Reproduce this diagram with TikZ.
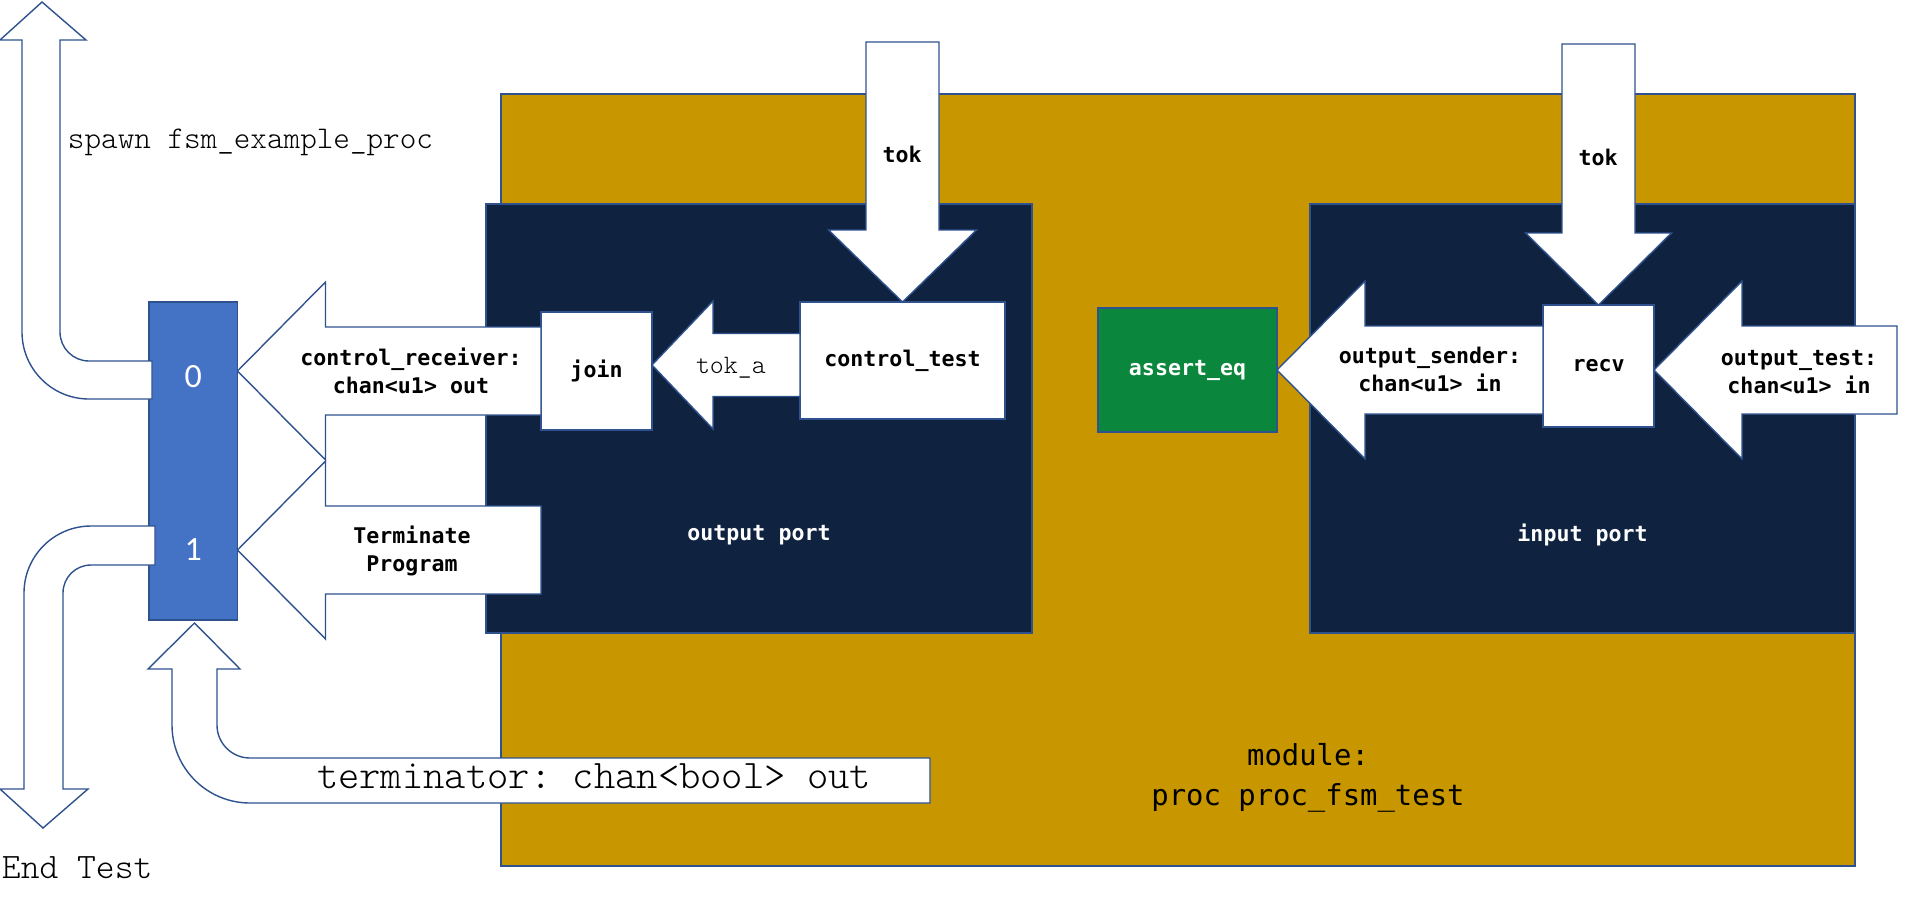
\documentclass[tikz,border=0pt]{standalone}
\usepackage{fontspec}
\usepackage{tikz}
\usetikzlibrary{calc}
\newfontfamily\consolas{DejaVu Sans Mono}
\newfontfamily\calibri{Carlito}
\definecolor{modgold}{HTML}{C89700}
\definecolor{portnavy}{HTML}{0F2341}
\definecolor{muxblue}{HTML}{4472C4}
\definecolor{assertgreen}{HTML}{0B873D}
\definecolor{edgeblue}{HTML}{2F528F}
\frenchspacing
\newcommand{\lblfont}{\consolas\bfseries\fontsize{10.8pt}{14pt}\selectfont}
% block arrow: [style]{start}{tip}{shaft half}{head half}{head length}
\newcommand{\fatarrow}[6][]{%
 \coordinate (fa-b) at ($(#3)!#6!(#2)$);
 \draw[flow,#1] ($(#2)!#4!90:(#3)$) -- ($(fa-b)!#4!90:(#3)$)
  -- ($(fa-b)!#5!90:(#3)$) -- (#3) -- ($(fa-b)!#5!-90:(#3)$)
  -- ($(fa-b)!#4!-90:(#3)$) -- ($(#2)!#4!-90:(#3)$) -- cycle;}

\begin{document}
\begin{tikzpicture}[x=0.5pt,y=-0.5pt,
 every node/.style={inner sep=0pt,outer sep=0pt},
 frame/.style={draw=edgeblue,line width=0.7pt,anchor=north west},
 wbox/.style={frame,fill=white,font=\lblfont},
 flow/.style={draw=edgeblue,line width=0.7pt,fill=white,line join=miter},
 lbl/.style={font=\lblfont,align=center},
 portlbl/.style={lbl,text=white},
 muxlbl/.style={text=white,font=\calibri\fontsize{17pt}{20pt}\selectfont},
 typed/.style={anchor=base west,font=\fontseries{l}\ttfamily\fontsize{#1}{#1}\selectfont}]

 \useasboundingbox (0,0) rectangle (1912,896);

 \node[frame,fill=modgold,minimum width=677pt,minimum height=386pt] (module) at (501,94) {};
 \node[frame,fill=portnavy,minimum width=273pt,minimum height=214.5pt] (oport) at (486,204) {};
 \node[frame,fill=portnavy,minimum width=272.5pt,minimum height=214.5pt] (iport) at (1310,204) {};
 \node[frame,fill=muxblue,minimum width=44.25pt,minimum height=159pt] (mux) at (149,302) {};

 \node[wbox,minimum width=102.5pt,minimum height=58.5pt] (ctest) at (800,302) {control\_test};
 \node[wbox,minimum width=55.5pt,minimum height=59pt] (join) at (541,312) {join};
 \node[wbox,minimum width=55.5pt,minimum height=61pt] (recv) at (1543,305) {recv};
 \node[frame,fill=assertgreen,text=white,font=\lblfont,minimum width=89.5pt,
  minimum height=62pt] (asrt) at (1098,308) {assert\_eq};

 \node[portlbl] (oplbl) at ([yshift=-58.25pt]oport.center) {output port};
 \node[portlbl] (iplbl) at ([yshift=-58.25pt]iport.center) {input port};
 \node[muxlbl] (mux0) at ([yshift=-37.5pt]mux.north) {0};
 \node[muxlbl] (mux1) at ([yshift=-124pt]mux.north) {1};

 % bent arrows on the mux
 \draw[flow] ($(mux.north west)+(3,59)$) -- (89,361) .. controls (73,361) and (60,348) .. (60,332)
  -- (60,40) -- (86,40) -- (42,2) -- (0,40) -- (22,40) -- (22,332)
  .. controls (22,369) and (52,399) .. (89,399) -- ($(mux.north west)+(3,97)$) -- cycle;
 \draw[flow] ($(mux.north west)+(6,224)$) -- (91,526) .. controls (54,526) and (24,556) .. (24,593)
  -- (24,789) -- (0,789) -- (43,828) -- (88,789) -- (63,789) -- (63,593)
  .. controls (63,577.5) and (75.5,565) .. (91,565) -- ($(mux.north west)+(6,263)$) -- cycle;
 \draw[flow] (930,758) -- (250,758) .. controls (231.8,758) and (217,743.2) .. (217,725)
  -- (217,669) -- (240,669) -- ($(mux.south)+(1.25,3)$) -- (148,669) -- (172,669) -- (172,725)
  .. controls (172,768.1) and (206.9,803) .. (250,803) -- (930,803) -- cycle;

 \coordinate (tok1) at ([yshift=130pt]ctest.north);
 \coordinate (tok2) at ([yshift=130.5pt]recv.north);
 \coordinate (tatip) at ([yshift=3pt]join.east);
 \coordinate (taend) at (ctest.west|-tatip);
 \coordinate (rxtip) at (mux.east|-join.west);
 \coordinate (tmtip) at (mux.east|-mux1);
 \coordinate (tmend) at (join.west|-mux1);
 \coordinate (osend) at (recv.west|-asrt.east);
 \coordinate (ottip) at (recv.east|-asrt.east);
 \coordinate (otend) at ([xshift=121.5pt]ottip);

 \fatarrow{tok1}{ctest.north}{18.25pt}{37pt}{36pt}
 \fatarrow{tok2}{recv.north}{18.25pt}{36.5pt}{36pt}
 \fatarrow{taend}{tatip}{15.75pt}{32pt}{30.5pt}
 \foreach \s/\t in {join.west/rxtip,tmend/tmtip,osend/asrt.east,otend/ottip}
  {\fatarrow{\s}{\t}{22pt}{44.5pt}{44pt}}

 \node[lbl] (tok1lbl) at (902,154) {tok};
 \node[lbl] (tok2lbl) at (1598,157) {tok};
 \node[lbl] (rxlbl) at (411,371) {control\_receiver:\\chan<u1> out};
 \node[lbl] (tmlbl) at (412,551) {Terminate\\Program};
 \node[lbl] (oslbl) at (1430,369) {output\_sender:\\chan<u1> in};
 \node[lbl] (otlbl) at (1799,372) {output\_test:\\chan<u1> in};
 \node[typed=13.3pt] (talbl) at (696,373) {tok\_a};

 \node[typed=15.8pt] (spawn) at (68,148) {spawn fsm\_example\_proc};
 \node[typed=17.9pt] (endtest) at (2,878) {End Test};
 \node[typed=20.3pt] (termlbl) at (317,788) {terminator: chan<bool> out};
 \node[font=\consolas\fontsize{14.45pt}{20pt}\selectfont,align=center] (modlbl)
  at (1308,778) {module:\\proc proc\_fsm\_test};

\end{tikzpicture}
\end{document}
